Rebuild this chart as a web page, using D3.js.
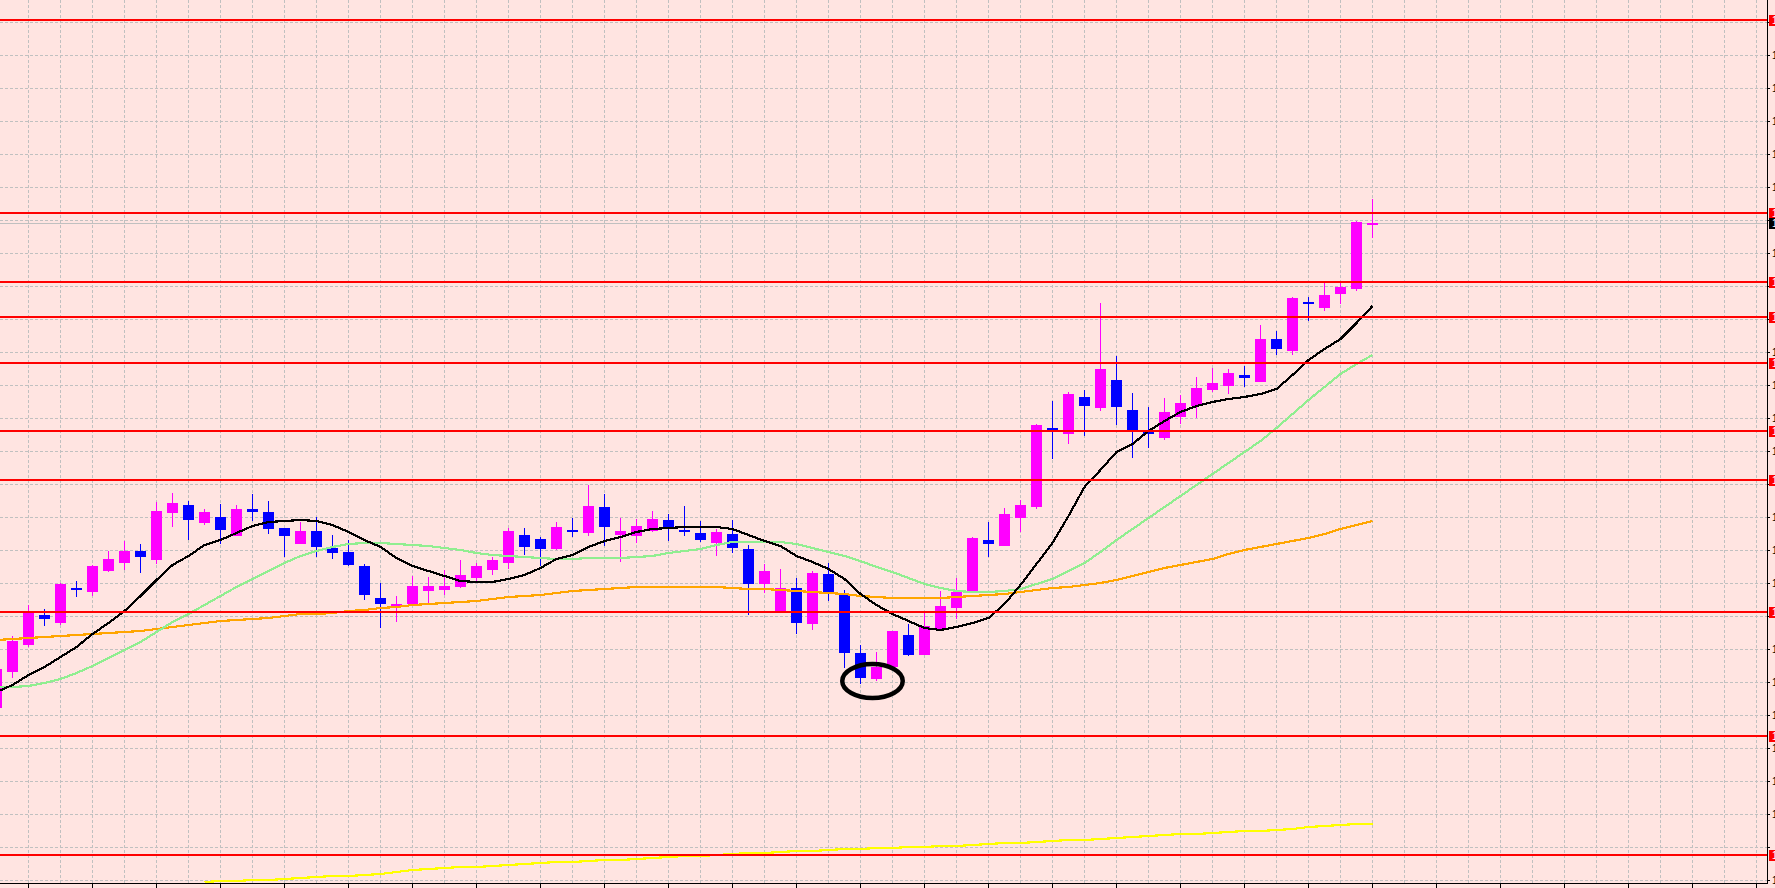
<!DOCTYPE html>
<html><head><meta charset="utf-8">
<script src="https://cdn.jsdelivr.net/npm/d3@7"></script>
<style>html,body{margin:0;padding:0;background:#FFE4E1;overflow:hidden}svg{display:block}</style>
</head><body>
<svg id="c" width="1775" height="888"></svg>
<script>
// ---- data (price values) ----
const opens = [1.3172,1.3208,1.3235,1.3265,1.3257,1.3292,1.3288,1.3309,1.3317,1.3329,
1.3320,1.3367,1.3375,1.3357,1.3363,1.3344,1.3371,1.3368,1.3352,1.3336,
1.3349,1.3332,1.3328,1.3314,1.3282,1.3273,1.3276,1.3289,1.3290,1.3293,
1.3302,1.3310,1.3317,1.3345,1.3341,1.3331,1.3350,1.3347,1.3373,1.3345,
1.3344,1.3349,1.3360,1.3350,1.3347,1.3337,1.3346,1.3331,1.3296,1.3268,
1.3292,1.3256,1.3306,1.3285,1.3227,1.3201,1.3213,1.3245,1.3225,1.3250,
1.3272,1.3288,1.3340,1.3334,1.3362,1.3373,1.3452,1.3446,1.3483,1.3472,
1.3500,1.3470,1.3449,1.3442,1.3463,1.3474,1.3490,1.3494,1.3505,1.3498,
1.3541,1.3529,1.3578,1.3572,1.3586,1.3591,1.3655];
const highs = [1.3215,1.3244,1.3275,1.3271,1.3297,1.3299,1.3315,1.3329,1.3339,1.3336,
1.3378,1.3387,1.3379,1.3371,1.3376,1.3375,1.3386,1.3379,1.3352,1.3358,
1.3363,1.3345,1.3340,1.3316,1.3297,1.3284,1.3304,1.3303,1.3310,1.3320,
1.3317,1.3323,1.3352,1.3352,1.3343,1.3358,1.3362,1.3395,1.3386,1.3362,
1.3361,1.3369,1.3366,1.3374,1.3359,1.3351,1.3360,1.3335,1.3316,1.3311,
1.3302,1.3309,1.3317,1.3290,1.3235,1.3228,1.3249,1.3256,1.3267,1.3289,
1.3302,1.3343,1.3358,1.3372,1.3380,1.3456,1.3479,1.3488,1.3490,1.3577,
1.3524,1.3487,1.3473,1.3482,1.3485,1.3503,1.3512,1.3511,1.3514,1.3555,
1.3549,1.3583,1.3583,1.3598,1.3598,1.3659,1.3681];
const lows = [1.3168,1.3202,1.3233,1.3254,1.3255,1.3283,1.3284,1.3308,1.3310,1.3307,
1.3316,1.3353,1.3340,1.3355,1.3336,1.3344,1.3359,1.3346,1.3323,1.3336,
1.3323,1.3321,1.3314,1.3280,1.3252,1.3258,1.3276,1.3277,1.3285,1.3292,
1.3298,1.3305,1.3311,1.3325,1.3314,1.3330,1.3343,1.3344,1.3334,1.3318,
1.3337,1.3348,1.3339,1.3344,1.3338,1.3324,1.3327,1.3265,1.3287,1.3268,
1.3246,1.3250,1.3279,1.3212,1.3196,1.3199,1.3213,1.3224,1.3225,1.3250,
1.3261,1.3288,1.3323,1.3334,1.3348,1.3371,1.3421,1.3436,1.3444,1.3469,
1.3455,1.3422,1.3432,1.3440,1.3456,1.3462,1.3488,1.3486,1.3493,1.3498,
1.3525,1.3525,1.3559,1.3569,1.3576,1.3589,1.3642];
const closes = [1.3211,1.3239,1.3268,1.3261,1.3296,1.3290,1.3314,1.3321,1.3329,1.3323,
1.3369,1.3377,1.3360,1.3368,1.3350,1.3371,1.3368,1.3351,1.3344,1.3349,
1.3333,1.3327,1.3315,1.3285,1.3276,1.3276,1.3294,1.3294,1.3294,1.3305,
1.3314,1.3320,1.3349,1.3333,1.3331,1.3353,1.3348,1.3374,1.3353,1.3349,
1.3354,1.3361,1.3351,1.3348,1.3340,1.3348,1.3332,1.3296,1.3309,1.3292,
1.3257,1.3307,1.3287,1.3227,1.3202,1.3213,1.3249,1.3225,1.3254,1.3274,
1.3288,1.3342,1.3336,1.3366,1.3375,1.3455,1.3450,1.3486,1.3474,1.3511,
1.3473,1.3450,1.3446,1.3468,1.3477,1.3492,1.3497,1.3507,1.3502,1.3541,
1.3531,1.3582,1.3576,1.3585,1.3593,1.3658,1.3657];

// moving averages (one value per bar)
const maFast = [1.3188,1.3195,1.3205,1.3213,1.3223,1.3233,1.3246,1.3257,1.3269,1.3284,
1.3300,1.3315,1.3324,1.3335,1.3340,1.3347,1.3354,1.3358,1.3359,1.3360,
1.3359,1.3355,1.3348,1.3340,1.3333,1.3322,1.3314,1.3309,1.3304,1.3299,
1.3298,1.3298,1.3301,1.3305,1.3312,1.3321,1.3325,1.3333,1.3339,1.3343,
1.3348,1.3351,1.3352,1.3353,1.3353,1.3353,1.3351,1.3345,1.3339,1.3334,
1.3324,1.3318,1.3311,1.3301,1.3286,1.3275,1.3266,1.3259,1.3252,1.3250,
1.3253,1.3257,1.3262,1.3276,1.3295,1.3316,1.3337,1.3364,1.3393,1.3410,
1.3428,1.3436,1.3449,1.3459,1.3468,1.3474,1.3478,1.3481,1.3483,1.3486,
1.3491,1.3505,1.3520,1.3531,1.3541,1.3557,1.3574];
const maMid = [1.3193,1.3193,1.3194,1.3197,1.3201,1.3207,1.3214,1.3222,1.3230,1.3238,
1.3248,1.3258,1.3266,1.3275,1.3284,1.3293,1.3301,1.3309,1.3317,1.3324,
1.3329,1.3333,1.3336,1.3337,1.3337,1.3336,1.3335,1.3334,1.3332,1.3330,
1.3327,1.3325,1.3324,1.3323,1.3322,1.3321,1.3321,1.3322,1.3322,1.3322,
1.3323,1.3324,1.3327,1.3329,1.3331,1.3335,1.3338,1.3338,1.3338,1.3338,
1.3336,1.3332,1.3328,1.3324,1.3319,1.3313,1.3308,1.3302,1.3296,1.3292,
1.3289,1.3288,1.3288,1.3289,1.3291,1.3296,1.3301,1.3309,1.3317,1.3328,
1.3340,1.3351,1.3362,1.3373,1.3384,1.3395,1.3406,1.3417,1.3428,1.3439,
1.3452,1.3466,1.3480,1.3493,1.3506,1.3516,1.3525];
const maSlow = [1.3240,1.3241,1.3242,1.3243,1.3244,1.3245,1.3246,1.3247,1.3248,1.3249,
1.3251,1.3253,1.3255,1.3257,1.3259,1.3260,1.3261,1.3262,1.3264,1.3266,
1.3266,1.3267,1.3269,1.3270,1.3272,1.3273,1.3275,1.3276,1.3277,1.3278,
1.3279,1.3281,1.3283,1.3284,1.3285,1.3287,1.3289,1.3290,1.3291,1.3292,
1.3293,1.3293,1.3293,1.3293,1.3293,1.3293,1.3292,1.3291,1.3291,1.3290,
1.3289,1.3288,1.3287,1.3286,1.3284,1.3283,1.3282,1.3282,1.3282,1.3282,
1.3283,1.3284,1.3285,1.3286,1.3288,1.3290,1.3292,1.3293,1.3295,1.3297,
1.3300,1.3304,1.3308,1.3312,1.3315,1.3318,1.3321,1.3326,1.3330,1.3333,
1.3336,1.3339,1.3342,1.3346,1.3351,1.3355,1.3359];
const maLongStart = 13;
const maLong = [1.2998,1.2999,1.2999,1.3000,1.3000,1.3001,1.3002,1.3003,1.3004,1.3004,
1.3005,1.3006,1.3008,1.3010,1.3011,1.3012,1.3013,1.3013,1.3014,1.3015,
1.3016,1.3017,1.3018,1.3018,1.3019,1.3020,1.3020,1.3021,1.3022,1.3023,
1.3024,1.3024,1.3025,1.3026,1.3027,1.3027,1.3028,1.3029,1.3029,1.3030,
1.3031,1.3031,1.3032,1.3032,1.3033,1.3033,1.3034,1.3034,1.3035,1.3036,
1.3037,1.3037,1.3038,1.3039,1.3040,1.3040,1.3041,1.3042,1.3043,1.3044,
1.3045,1.3046,1.3046,1.3047,1.3048,1.3049,1.3049,1.3050,1.3051,1.3053,
1.3054,1.3055,1.3056,1.3056];

// horizontal support / resistance levels
const levels = [1.3860,1.3667,1.3598,1.3563,1.3517,1.3449,1.3400,1.3268,1.3144,1.3025];
const bid = 1.3657;
// price grid / tick labels
const priceTicks = [1.3000,1.3033,1.3066,1.3099,1.3132,1.3165,1.3198,1.3231,1.3264,1.3297,
1.3330,1.3363,1.3396,1.3429,1.3462,1.3495,1.3528,1.3561,1.3594,1.3627,
1.3660,1.3693,1.3726,1.3759,1.3792,1.3825,1.3858];
// annotation ellipse (bar index, price)
const ringBar = 54.75, ringPrice = 1.3199, ringBars = 1.89, ringSpan = 0.0017;

// ---- drawing ----
const W = 1775, H = 888, plotR = 1767, plotB = 883;
const svg = d3.select('#c');
const y = d3.scaleLinear().domain([1.3880 - H/10000, 1.3880]).range([H, 0]);
const nSlots = 110;
const x = d3.scaleLinear().domain([0, nSlots]).range([-3.5, -3.5 + 16*nSlots]);

svg.append('rect').attr('width', W).attr('height', H).attr('fill', '#FFE4E1');
svg.append('defs').append('clipPath').attr('id','plot')
  .append('rect').attr('x',0).attr('y',0).attr('width',plotR).attr('height',plotB);

const gGrid = svg.append('g').attr('shape-rendering','crispEdges');
gGrid.selectAll('line.h').data(priceTicks).join('line')
  .attr('x1', 0).attr('x2', plotR)
  .attr('y1', d => Math.round(y(d)) + 0.5).attr('y2', d => Math.round(y(d)) + 0.5)
  .attr('stroke', '#c0c0c0').attr('stroke-dasharray', '3,2');
const vIdx = d3.range(2, nSlots + 1, 2);
gGrid.selectAll('line.v').data(vIdx).join('line')
  .attr('y1', 0).attr('y2', plotB)
  .attr('x1', d => Math.floor(x(d)) + 0.5).attr('x2', d => Math.floor(x(d)) + 0.5)
  .attr('stroke', '#c0c0c0').attr('stroke-dasharray', '3,2');

// bid line
svg.append('line').attr('x1',0).attr('x2',plotR)
  .attr('y1', Math.round(y(bid))+0.5).attr('y2', Math.round(y(bid))+0.5)
  .attr('stroke','#c0c0c0').attr('shape-rendering','crispEdges');

const plot = svg.append('g').attr('clip-path','url(#plot)');

// candles
const bars = opens.map((o,i) => ({i, o, h: highs[i], l: lows[i], c: closes[i]}));
const gC = plot.append('g').attr('shape-rendering','crispEdges');
const col = d => d.c >= d.o ? '#FF00FF' : '#0000FF';
gC.selectAll('rect.w').data(bars).join('rect')
  .attr('x', d => Math.floor(x(d.i)))
  .attr('width', 1)
  .attr('y', d => Math.round(y(d.h)))
  .attr('height', d => Math.max(1, Math.round(y(d.l)) - Math.round(y(d.h))))
  .attr('fill', col);
gC.selectAll('rect.b').data(bars).join('rect')
  .attr('x', d => Math.floor(x(d.i)) - 5)
  .attr('width', 11)
  .attr('y', d => Math.round(y(Math.max(d.o, d.c))))
  .attr('height', d => Math.max(2, Math.round(y(Math.min(d.o, d.c))) - Math.round(y(Math.max(d.o, d.c)))))
  .attr('fill', col);

// moving averages
const line = d3.line().x(d => x(d[0])).y(d => y(d[1]));
const series = [
  {vals: maLong.map((v,k) => [k + maLongStart, v]), color: '#FFFF00'},
  {vals: maSlow.map((v,i) => [i, v]), color: '#FFA500'},
  {vals: maMid.map((v,i) => [i, v]), color: '#90EE90'},
  {vals: maFast.map((v,i) => [i, v]), color: '#000000'}
];
plot.selectAll('path.ma').data(series).join('path')
  .attr('d', d => line(d.vals)).attr('fill','none')
  .attr('stroke', d => d.color).attr('stroke-width', 2.2)
  .attr('stroke-linejoin','round').attr('shape-rendering','crispEdges');

// horizontal levels
svg.append('g').attr('shape-rendering','crispEdges').selectAll('line').data(levels).join('line')
  .attr('x1', 0).attr('x2', plotR)
  .attr('y1', d => Math.round(y(d))).attr('y2', d => Math.round(y(d)))
  .attr('stroke', '#FF0000').attr('stroke-width', 2);

// annotation ellipse
svg.append('ellipse')
  .attr('cx', x(ringBar)).attr('cy', y(ringPrice))
  .attr('rx', x(ringBar + ringBars) - x(ringBar))
  .attr('ry', y(ringPrice) - y(ringPrice + ringSpan))
  .attr('fill','none').attr('stroke','#000').attr('stroke-width', 4.5);

// axes frame
const gA = svg.append('g').attr('shape-rendering','crispEdges');
gA.append('line').attr('x1', plotR + 0.5).attr('x2', plotR + 0.5).attr('y1', 0).attr('y2', plotB + 1).attr('stroke','#000');
gA.append('line').attr('x1', 0).attr('x2', plotR + 1).attr('y1', plotB + 0.5).attr('y2', plotB + 0.5).attr('stroke','#000');
const tIdx = d3.range(2, nSlots + 1, 4);
gA.selectAll('line.t').data(tIdx).join('line')
  .attr('x1', d => Math.floor(x(d)) + 0.5).attr('x2', d => Math.floor(x(d)) + 0.5)
  .attr('y1', plotB).attr('y2', H).attr('stroke','#000');
gA.selectAll('line.p').data(priceTicks).join('line')
  .attr('x1', plotR).attr('x2', plotR + 3)
  .attr('y1', d => Math.round(y(d)) + 0.5).attr('y2', d => Math.round(y(d)) + 0.5)
  .attr('stroke','#000');
// price labels (cut by the window edge, as in the terminal); hidden where a marker sits
const markerYs = levels.concat([bid]).map(v => y(v));
const shownTicks = priceTicks.filter(p => markerYs.every(m => Math.abs(y(p) - m) > 11));
svg.append('g').selectAll('text').data(shownTicks).join('text')
  .attr('x', plotR + 5).attr('y', d => y(d) + 3.5)
  .attr('font-family','Liberation Sans, Arial, sans-serif').attr('font-size', 10)
  .attr('fill','#000').text(d => d.toFixed(4));
// level markers
const gM = svg.append('g');
gM.selectAll('rect').data(levels).join('rect')
  .attr('x', plotR + 2).attr('width', 8)
  .attr('y', d => Math.round(y(d)) - 5.5).attr('height', 11)
  .attr('fill', '#FF0000').attr('shape-rendering','crispEdges');
gM.selectAll('text').data(levels).join('text')
  .attr('x', plotR + 5).attr('y', d => y(d) + 3.5)
  .attr('font-family','Liberation Sans, Arial, sans-serif').attr('font-size', 10)
  .attr('fill','#fff').text(d => d.toFixed(4));
// bid marker
svg.append('rect').attr('x', plotR + 2).attr('width', 8)
  .attr('y', Math.round(y(bid)) - 5).attr('height', 11).attr('fill','#000').attr('shape-rendering','crispEdges');
svg.append('text').attr('x', plotR + 5).attr('y', y(bid) + 3.5)
  .attr('font-family','Liberation Sans, Arial, sans-serif').attr('font-size', 10)
  .attr('fill','#fff').text(bid.toFixed(4));
</script>
</body></html>
